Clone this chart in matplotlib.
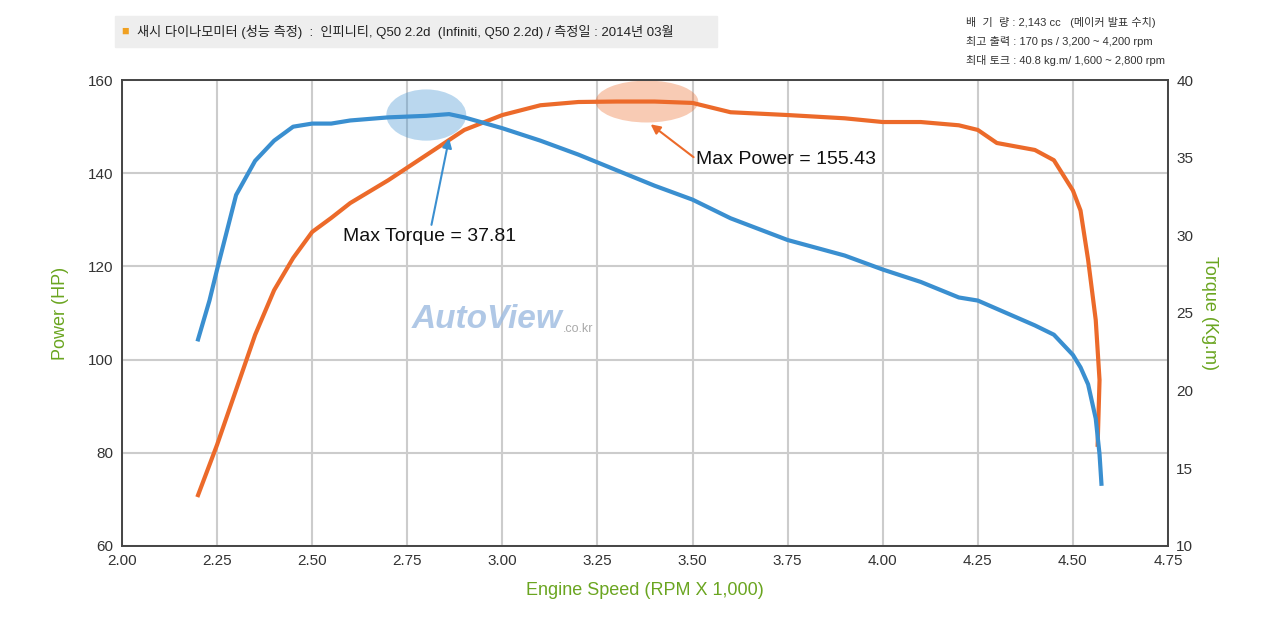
import matplotlib.pyplot as plt
from matplotlib.patches import Ellipse

plt.rcParams['font.family'] = ['Liberation Sans', 'Noto Sans CJK KR', 'DejaVu Sans']

# power curve (HP, left axis)
power_rpm = [2.20, 2.25, 2.30, 2.35, 2.40, 2.45, 2.50, 2.55, 2.60, 2.70, 2.80, 2.90,
             3.00, 3.10, 3.20, 3.30, 3.40, 3.50, 3.60, 3.75, 3.90, 4.00, 4.10, 4.20,
             4.25, 4.30, 4.40, 4.45, 4.50, 4.52, 4.54, 4.56, 4.57, 4.565]
power_hp = [70.9, 81.7, 93.5, 105.3, 114.9, 121.8, 127.4, 130.4, 133.6, 138.5, 143.9, 149.3,
            152.5, 154.6, 155.3, 155.4, 155.4, 155.1, 153.1, 152.5, 151.8, 151.0, 151.0, 150.3,
            149.3, 146.5, 145.0, 142.8, 136.3, 132.0, 121.4, 108.5, 95.6, 81.7]

# torque curve (kg.m, right axis)
torque_rpm = [2.20, 2.23, 2.25, 2.30, 2.35, 2.40, 2.45, 2.50, 2.55, 2.60, 2.70, 2.80,
              2.86, 2.90, 3.00, 3.10, 3.20, 3.30, 3.40, 3.50, 3.60, 3.75, 3.90, 4.00,
              4.10, 4.20, 4.25, 4.40, 4.45, 4.50, 4.52, 4.54, 4.56, 4.57, 4.575]
torque_kgm = [23.3, 25.8, 27.8, 32.6, 34.8, 36.1, 37.0, 37.2, 37.2, 37.4, 37.6, 37.7,
              37.81, 37.6, 36.9, 36.1, 35.2, 34.2, 33.2, 32.3, 31.1, 29.7, 28.7, 27.8,
              27.0, 26.0, 25.8, 24.2, 23.6, 22.3, 21.5, 20.4, 18.2, 15.9, 14.0]

x_ticks = [2.00, 2.25, 2.50, 2.75, 3.00, 3.25, 3.50, 3.75, 4.00, 4.25, 4.50, 4.75]
blue = '#3a8fd0'
orange = '#ec6a2a'
green = '#6aa520'

fig = plt.figure(figsize=(12.8, 6.21), dpi=100)
ax = fig.add_axes([0.0953, 0.121, 0.8172, 0.750])
ax2 = ax.twinx()

ax.plot(power_rpm, power_hp, color=orange, lw=3)
ax2.plot(torque_rpm, torque_kgm, color=blue, lw=3)

ax.set_xlim(2.0, 4.75)
ax.set_ylim(60, 160)
ax2.set_ylim(10, 40)
ax.set_xticks(x_ticks)
ax.set_xticklabels([f'{t:.2f}' for t in x_ticks])
ax.set_yticks(range(60, 161, 20))
ax2.set_yticks(range(10, 41, 5))
ax.grid(True, color='#cccccc', lw=1.5)
ax.set_axisbelow(True)
for a in (ax, ax2):
    a.tick_params(labelsize=11, colors='#333333', length=0, pad=6)
    for s in a.spines.values():
        s.set_color('#444444')
        s.set_linewidth(1.2)

ax.set_xlabel('Engine Speed (RPM X 1,000)', color=green, fontsize=13, labelpad=10)
ax.set_ylabel('Power (HP)', color=green, fontsize=13, labelpad=14)
ax2.set_ylabel('Torque (Kg.m)', color=green, fontsize=13, labelpad=18, rotation=270)

# highlight ellipses
ax.add_patch(Ellipse((2.80, 152.5), 0.21, 11, color=blue, alpha=0.35, lw=0))
ax.add_patch(Ellipse((3.38, 155.4), 0.27, 9, color=orange, alpha=0.35, lw=0))

ax.annotate('Max Torque = 37.81', xy=(2.86, 147.5), xytext=(2.58, 126.5),
            fontsize=14, color='#111111',
            arrowprops=dict(arrowstyle='-|>', color=blue, lw=1.5, shrinkA=0, shrinkB=0),
            ha='left', va='center')
ax.annotate('Max Power = 155.43', xy=(3.39, 150.5), xytext=(3.51, 143),
            fontsize=14, color='#111111',
            arrowprops=dict(arrowstyle='-|>', color=orange, lw=1.5, shrinkA=0, shrinkB=0,
                            relpos=(0, 0.5)),
            ha='left', va='center')

# watermark
ax.text(2.96, 108.5, 'AutoView', fontsize=24, fontweight='bold', fontstyle='italic',
        color='#9dbbe0', alpha=0.8, ha='center', va='center')
ax.text(3.16, 106.5, '.co.kr', fontsize=9, color='#aaaaaa', ha='left', va='center')

# header
fig.patches.append(plt.Rectangle((0.09, 0.925), 0.47, 0.05, transform=fig.transFigure,
                                 color='#eeeeee', zorder=0))
fig.text(0.095, 0.949, '■', color='#f0a020', fontsize=9, va='center')
fig.text(0.107, 0.949, '새시 다이나모미터 (성능 측정)  :  인피니티, Q50 2.2d  (Infiniti, Q50 2.2d) / 측정일 : 2014년 03월',
         fontsize=9.5, color='#222222', va='center')
fig.text(0.755, 0.963, '배  기  량 : 2,143 cc   (메이커 발표 수치)', fontsize=8, color='#333333', va='center')
fig.text(0.755, 0.933, '최고 출력 : 170 ps / 3,200 ~ 4,200 rpm', fontsize=8, color='#333333', va='center')
fig.text(0.755, 0.903, '최대 토크 : 40.8 kg.m/ 1,600 ~ 2,800 rpm', fontsize=8, color='#333333', va='center')

fig.savefig('out.png', dpi=100, facecolor='white')
